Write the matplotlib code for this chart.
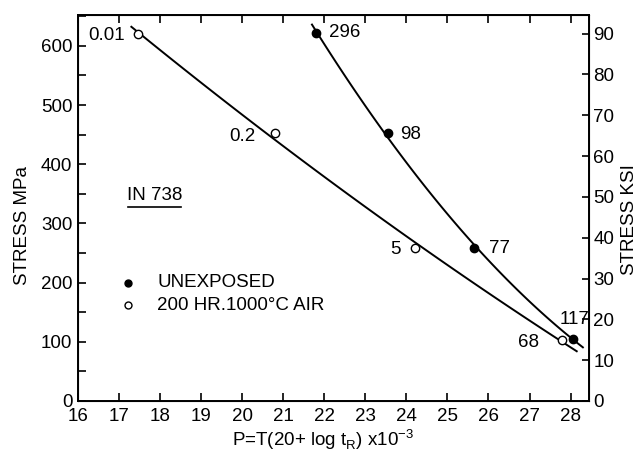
import numpy as np
import matplotlib
matplotlib.use("Agg")
import matplotlib.pyplot as plt

plt.rcParams["font.family"] = ["Liberation Sans", "DejaVu Sans"]
plt.rcParams["mathtext.fontset"] = "custom"
plt.rcParams["mathtext.rm"] = "Liberation Sans"

# Rupture data, IN 738: Larson-Miller parameter vs stress (MPa), labels = hours to rupture
p_unexposed = [21.8, 23.55, 25.65, 28.07]
s_unexposed = [622, 452, 258, 105]
t_unexposed = ["296", "98", "77", "117"]

p_exposed = [17.45, 20.8, 24.2, 27.8]
s_exposed = [620, 452, 258, 103]
t_exposed = ["0.01", "0.2", "5", "68"]

MPA_PER_KSI = 6.895

fig = plt.figure(figsize=(6.42, 4.53), dpi=100)
ax = fig.add_axes([0.1215, 0.1148, 0.796, 0.852])

# fitted trend curves (quadratic least squares)
fit_u = np.polyfit(p_unexposed, s_unexposed, 2)
xu = np.linspace(21.7, 28.3, 100)
ax.plot(xu, np.polyval(fit_u, xu), color="black", lw=1.4)

fit_e = np.polyfit(p_exposed, s_exposed, 2)
xe = np.linspace(17.3, 28.15, 100)
ax.plot(xe, np.polyval(fit_e, xe), color="black", lw=1.4)

ax.plot(p_unexposed, s_unexposed, "o", color="black", ms=6)
ax.plot(p_exposed, s_exposed, "o", mfc="white", mec="black", mew=1, ms=6)

fs = 13.5
# point labels (offsets in points)
off_u = [(9, 0, "left"), (9, -1, "left"), (11, 0, "left"), (1, 14, "center")]
for x, y, t, (dx, dy, ha) in zip(p_unexposed, s_unexposed, t_unexposed, off_u):
    ax.annotate(t, (x, y), xytext=(dx, dy), textcoords="offset points",
                ha=ha, va="center", fontsize=fs)
off_e = [(-9, -1, "right"), (-14, -2, "right"), (-10, -1, "right"), (-17, -2, "right")]
for x, y, t, (dx, dy, ha) in zip(p_exposed, s_exposed, t_exposed, off_e):
    ax.annotate(t, (x, y), xytext=(dx, dy), textcoords="offset points",
                ha=ha, va="center", fontsize=fs)

# material tag
ax.text(17.2, 347, "IN 738", fontsize=fs, va="center", ha="left")
ax.plot([17.22, 18.5], [328, 328], color="black", lw=1.2)

# legend
ax.plot([17.22], [200], "o", color="black", ms=5)
ax.plot([17.22], [163], "o", mfc="white", mec="black", mew=1, ms=5)
ax.text(17.93, 201, "UNEXPOSED", fontsize=fs, va="center")
ax.text(17.93, 161, "200 HR.1000°C AIR", fontsize=fs, va="center")

ax.set_xlim(16, 28.45)
ax.set_ylim(0, 652)
ax.set_xticks(range(16, 29))
ax.set_yticks(range(0, 601, 100))
ax.set_yticks(range(50, 651, 100), minor=True)
ax.tick_params(axis="both", direction="in", labelsize=fs, length=6, width=1.2)
ax.tick_params(axis="y", which="minor", direction="in", length=6, width=1.2)
ax.tick_params(axis="x", top=True, pad=5)
ax.tick_params(axis="y", pad=4)
for s in ax.spines.values():
    s.set_linewidth(1.4)

ax.set_xlabel("P=T(20+ log t$_\\mathrm{R}$) x10$^{-3}$", fontsize=fs)
ax.xaxis.set_label_coords(0.48, -0.068)
ax.set_ylabel("STRESS MPa", fontsize=fs)
ax.yaxis.set_label_coords(-0.092, 0.455)

# stress in ksi on the right
ax2 = ax.twinx()
ax2.set_ylim(0, 652 / MPA_PER_KSI)
ax2.set_yticks(range(0, 91, 10))
ax2.tick_params(axis="y", direction="in", labelsize=fs, length=5, width=1.2, pad=3)
ax2.set_ylabel("STRESS KSI", fontsize=fs, rotation=90)
ax2.yaxis.set_label_coords(1.063, 0.47)

fig.savefig("out.png", dpi=100)
